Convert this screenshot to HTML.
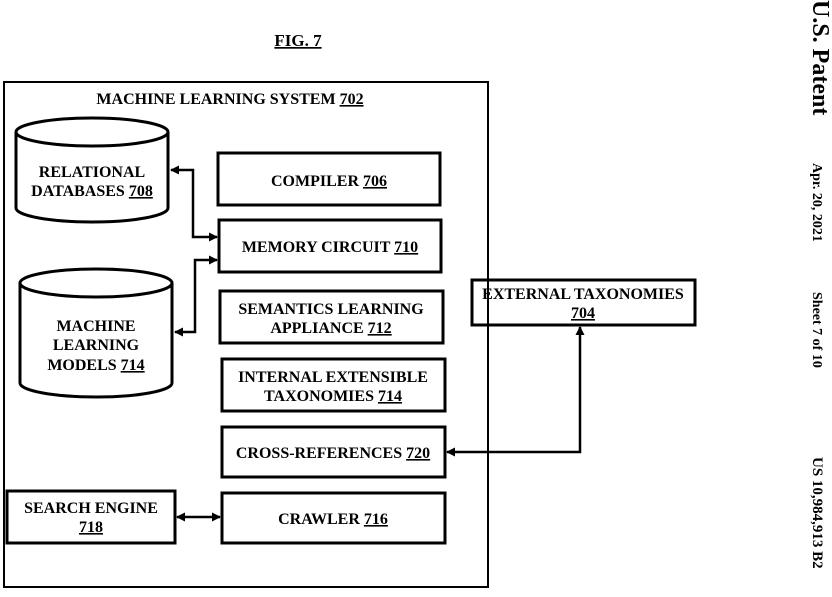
<!DOCTYPE html>
<html><head><style>body{margin:0;background:#fff}svg{display:block}text{font-family:"Liberation Serif",serif;font-weight:bold;fill:#000}</style></head><body>
<svg width="832" height="597" viewBox="0 0 832 597" xmlns="http://www.w3.org/2000/svg">
<defs><marker id="a" markerWidth="9" markerHeight="9" refX="8" refY="4.5" orient="auto-start-reverse" markerUnits="userSpaceOnUse"><path d="M0,0 L9,4.5 L0,9 z" fill="#000"/></marker></defs>
<text x="298" y="46" font-size="17" text-anchor="middle" text-decoration="underline">FIG. 7</text>
<rect x="4" y="82" width="484" height="505" fill="none" stroke="#000" stroke-width="2"/>
<text x="230" y="104" font-size="16" text-anchor="middle">MACHINE LEARNING SYSTEM <tspan text-decoration="underline">702</tspan></text>
<g fill="none" stroke="#000" stroke-width="3">
<path d="M16,132 L16,208 A76,14 0 0 0 168,208 L168,132"/><ellipse cx="92" cy="132" rx="76" ry="14"/>
<path d="M20,283 L20,383 A76,14 0 0 0 172,383 L172,283"/><ellipse cx="96" cy="283" rx="76" ry="14"/>
<rect x="218" y="153" width="222" height="52"/>
<rect x="219" y="220" width="222" height="52"/>
<rect x="220" y="291" width="223" height="52"/>
<rect x="222" y="359" width="223" height="52"/>
<rect x="222" y="427" width="223" height="50"/>
<rect x="222" y="493" width="223" height="50"/>
<rect x="7" y="491" width="168" height="52"/>
<rect x="472" y="280" width="223" height="45"/>
</g>
<g fill="none" stroke="#000" stroke-width="2.5">
<polyline points="171,170 193,170 193,237 217,237" marker-start="url(#a)" marker-end="url(#a)"/>
<polyline points="175,332 195,332 195,260 217,260" marker-start="url(#a)" marker-end="url(#a)"/>
<polyline points="447,452 580,452 580,327" marker-start="url(#a)" marker-end="url(#a)"/>
<line x1="177" y1="517" x2="220" y2="517" marker-start="url(#a)" marker-end="url(#a)"/>
</g>
<g font-size="16" text-anchor="middle">
<text x="92" y="177">RELATIONAL</text>
<text x="92" y="196">DATABASES <tspan text-decoration="underline">708</tspan></text>
<text x="96" y="331">MACHINE</text>
<text x="96" y="350">LEARNING</text>
<text x="96" y="370">MODELS <tspan text-decoration="underline">714</tspan></text>
<text x="329" y="186">COMPILER <tspan text-decoration="underline">706</tspan></text>
<text x="330" y="252">MEMORY CIRCUIT <tspan text-decoration="underline">710</tspan></text>
<text x="331" y="314">SEMANTICS LEARNING</text>
<text x="331" y="333">APPLIANCE <tspan text-decoration="underline">712</tspan></text>
<text x="333" y="382">INTERNAL  EXTENSIBLE</text>
<text x="333" y="401">TAXONOMIES <tspan text-decoration="underline">714</tspan></text>
<text x="333" y="458">CROSS-REFERENCES <tspan text-decoration="underline">720</tspan></text>
<text x="333" y="524">CRAWLER <tspan text-decoration="underline">716</tspan></text>
<text x="91" y="513">SEARCH ENGINE</text>
<text x="91" y="532"><tspan text-decoration="underline">718</tspan></text>
<text x="583" y="299">EXTERNAL TAXONOMIES</text>
<text x="583" y="318"><tspan text-decoration="underline">704</tspan></text>
</g>
<g transform="translate(813,0) rotate(90)">
<text x="0" y="0" font-size="24">U.S. Patent</text>
<text x="163" y="0" font-size="14">Apr. 20, 2021</text>
<text x="292" y="0" font-size="14">Sheet 7 of 10</text>
<text x="457" y="0" font-size="15">US 10,984,913 B2</text>
</g>
</svg>
</body></html>
